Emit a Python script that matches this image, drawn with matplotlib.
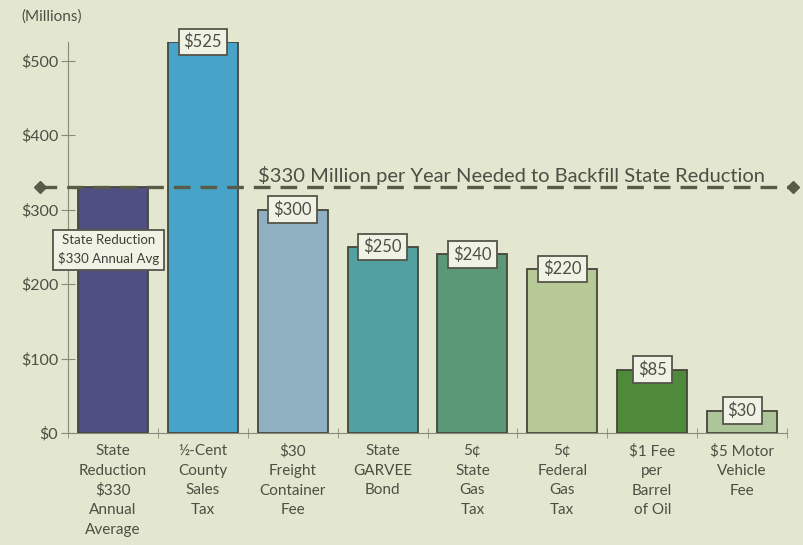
import matplotlib.pyplot as plt

categorias = ['State\nReduction\n$330\nAnnual\nAverage', '½-Cent\nCounty\nSales\nTax',
              '$30\nFreight\nContainer\nFee', 'State\nGARVEE\nBond', '5¢\nState\nGas\nTax',
              '5¢\nFederal\nGas\nTax', '$1 Fee\nper\nBarrel\nof Oil', '$5 Motor\nVehicle\nFee']
valores = [330, 525, 300, 250, 240, 220, 85, 30]
rotulos = ['', '$525', '$300', '$250', '$240', '$220', '$85', '$30']
cores = ['#4f4f82', '#47a3c8', '#8fb0c0', '#52a0a0', '#5a9878', '#b7c996', '#4f8a3a', '#aec59a']
meta = 330
yticks = [0, 100, 200, 300, 400, 500]

plt.rcParams['font.family'] = ['Lato', 'DejaVu Sans']
fundo = '#e3e7cf'
cinza = '#4e4e44'

fig = plt.figure(figsize=(8.04, 5.45), dpi=100, facecolor=fundo)
ax = fig.add_axes([68 / 804, 1 - 433 / 545, (787 - 68) / 804, 391 / 545])
ax.set_facecolor(fundo)

x = list(range(len(valores)))
ax.bar(x, valores, width=0.78, color=cores, edgecolor='#45453c', linewidth=1.3, zorder=2)

# caixinhas com o valor em cima de cada barra
for xi, v, r in zip(x, valores, rotulos):
    if r:
        ax.text(xi, v, r, ha='center', va='center', fontsize=12, color=cinza, zorder=4,
                bbox=dict(boxstyle='square,pad=0.3', fc='#f1f2e6', ec='#55554a', lw=1.3),
                clip_on=False)

ax.text(-0.05, 246, 'State Reduction\n$330 Annual Avg', ha='center', va='center', fontsize=9.5,
        color='#3f3f38', linespacing=1.55, zorder=4,
        bbox=dict(boxstyle='square,pad=0.35', fc='#f1f2e6', ec='#55554a', lw=1.3))

# linha tracejada da meta
ax.plot([-0.81, 7.57], [meta, meta], color='#5a5a48', lw=2.4, ls=(0, (5, 3)),
        zorder=3, clip_on=False)
ax.plot([-0.81, 7.57], [meta, meta], 'D', color='#5a5a48', ms=6, zorder=3, clip_on=False)
ax.text(4.43, meta + 3, '$330 Million per Year Needed to Backfill State Reduction',
        ha='center', va='bottom', fontsize=14.5, color=cinza, zorder=3)

ax.set_xlim(-0.5, 7.5)
ax.set_ylim(0, 525)
ax.set_yticks(yticks)
ax.set_yticklabels(['$' + str(t) for t in yticks], fontsize=11.5, color=cinza)
ax.set_xticks(x)
ax.set_xticklabels(categorias, fontsize=11, color=cinza, linespacing=1.5, va='top')
ax.set_xticks([i - 0.5 for i in range(9)], minor=True)
ax.tick_params(axis='x', which='major', length=0, pad=8)
ax.tick_params(axis='x', which='minor', direction='inout', length=7, color='#8a8a78')
ax.tick_params(axis='y', direction='inout', length=10, color='#8a8a78', pad=2)

for s in ['top', 'right']:
    ax.spines[s].set_visible(False)
ax.spines['left'].set_color('#8a8a78')
ax.spines['bottom'].set_color('#8a8a78')

fig.text(21 / 804, 1 - 17 / 545, '(Millions)', fontsize=11, color=cinza, va='center')

plt.savefig('out.png', dpi=100, facecolor=fundo)
